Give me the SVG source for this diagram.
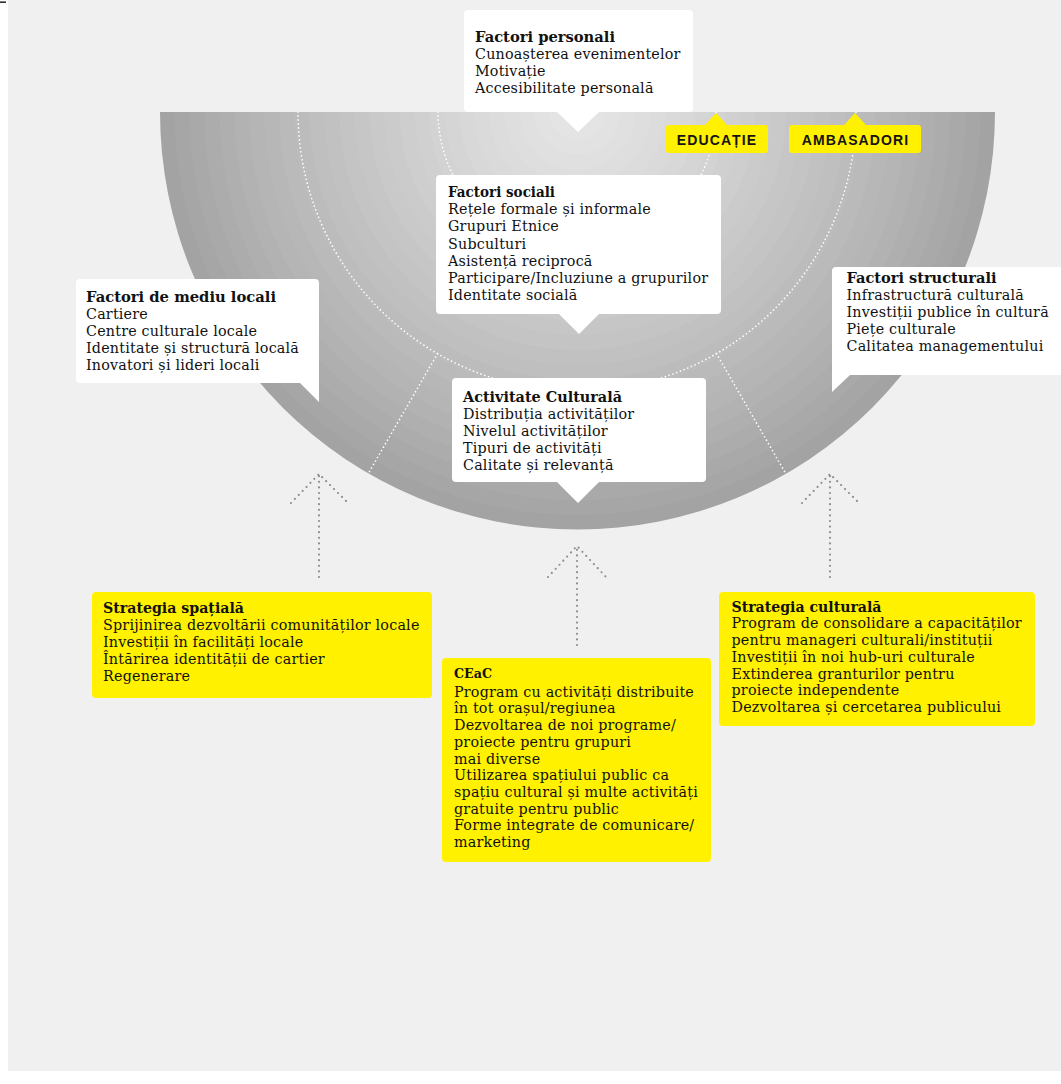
<svg xmlns="http://www.w3.org/2000/svg" width="1061" height="1084" viewBox="0 0 1061 1084">
<defs>
<style>
.t{font-family:"DejaVu Serif","Liberation Serif",serif;font-size:14.3px;letter-spacing:0.2px;fill:#111111}
.b{font-family:"DejaVu Serif","Liberation Serif",serif;font-size:14.3px;font-weight:bold;fill:#111111}
.tag{font-family:"Liberation Sans",Arial,sans-serif;font-size:14px;font-weight:bold;letter-spacing:1.1px;fill:#141414}
.box{fill:#ffffff}
.yel{fill:#fff100}
.wd{fill:none;stroke:#ffffff;stroke-width:1.7;stroke-dasharray:0 4;stroke-linecap:round}
.gd{fill:none;stroke:#8f8f8f;stroke-width:2.2;stroke-dasharray:0 5.6;stroke-linecap:round;stroke-linejoin:round}
</style>
<clipPath id="half"><rect x="0" y="112" width="1061" height="430"/></clipPath>
</defs>
<rect x="0" y="0" width="1061" height="1084" fill="#ffffff"/>
<rect x="8" y="0" width="1053" height="1071" fill="#f0f0f0"/>
<rect x="0" y="1.5" width="6" height="1.3" fill="#000"/>
<g id="semicircle" clip-path="url(#half)">
<circle cx="577.5" cy="112" r="417.5" fill="#a3a3a4"/>
<circle cx="577.5" cy="112" r="403" fill="#a6a6a7"/>
<circle cx="577.5" cy="112" r="388" fill="#a9a9aa"/>
<circle cx="577.5" cy="112" r="373" fill="#acacad"/>
<circle cx="577.5" cy="112" r="358" fill="#afafb0"/>
<circle cx="577.5" cy="112" r="343" fill="#b2b2b3"/>
<circle cx="577.5" cy="112" r="328" fill="#b5b5b6"/>
<circle cx="577.5" cy="112" r="313" fill="#b7b7b8"/>
<circle cx="577.5" cy="112" r="298" fill="#bababb"/>
<circle cx="577.5" cy="112" r="283" fill="#bcbcbd"/>
<circle cx="577.5" cy="112" r="268" fill="#bfbfc0"/>
<circle cx="577.5" cy="112" r="253" fill="#c1c1c2"/>
<circle cx="577.5" cy="112" r="238" fill="#c4c4c5"/>
<circle cx="577.5" cy="112" r="223" fill="#c6c6c7"/>
<circle cx="577.5" cy="112" r="208" fill="#c9c9ca"/>
<circle cx="577.5" cy="112" r="193" fill="#cbcbcc"/>
<circle cx="577.5" cy="112" r="178" fill="#cecece"/>
<circle cx="577.5" cy="112" r="163" fill="#d0d0d1"/>
<circle cx="577.5" cy="112" r="148" fill="#d3d3d3"/>
<circle cx="577.5" cy="112" r="133" fill="#d5d5d6"/>
<circle cx="577.5" cy="112" r="118" fill="#d8d8d8"/>
<circle cx="577.5" cy="112" r="103" fill="#dadadb"/>
<circle cx="577.5" cy="112" r="88" fill="#dcdcdc"/>
<circle cx="577.5" cy="112" r="73" fill="#dedede"/>
<circle cx="577.5" cy="112" r="58" fill="#e0e0e0"/>
<circle cx="577.5" cy="112" r="43" fill="#e2e2e2"/>
<circle cx="577.5" cy="112" r="28" fill="#e4e4e4"/>
</g>
<g id="connectors">
<path class="wd" d="M298 112 A279 279 0 0 0 856 112"/>
<path class="wd" d="M438 112 A139 139 0 0 0 716 112"/>
<path class="wd" d="M437.5 353.6 L368.5 473.1"/>
<path class="wd" d="M716.5 353.6 L785.5 473.1"/>
<path class="gd" d="M319 577 V474"/>
<path class="gd" d="M291 503 L319 474 L348 503"/>
<path class="gd" d="M577 645 V546"/>
<path class="gd" d="M548 577 L577 546 L606 577"/>
<path class="gd" d="M830 577 V474"/>
<path class="gd" d="M802 503 L830 474 L859 503"/>
</g>
<g id="factori-personali">
<path class="box" d="M468 10 H689 Q693 10 693 14 V108 Q693 112 689 112 H599 L578 132 L557 112 H468 Q464 112 464 108 V14 Q464 10 468 10 Z"/>
<text class="b" x="475" y="41.7" textLength="140" lengthAdjust="spacingAndGlyphs">Factori personali</text>
<text class="t" x="475" y="58.7">Cunoașterea evenimentelor</text>
<text class="t" x="475" y="75.7">Motivație</text>
<text class="t" x="475" y="92.7">Accesibilitate personală</text>
</g>
<g id="educatie">
<path class="yel" d="M669 125 H705 L716 113 L727 125 H765 Q768 125 768 128 V150 Q768 153 765 153 H669 Q666 153 666 150 V128 Q666 125 669 125 Z"/>
<text class="tag" x="717" y="145" text-anchor="middle">EDUCAȚIE</text>
</g>
<g id="ambasadori">
<path class="yel" d="M792 125 H844 L855 113 L866 125 H918 Q921 125 921 128 V150 Q921 153 918 153 H792 Q789 153 789 150 V128 Q789 125 792 125 Z"/>
<text class="tag" x="855.5" y="145" text-anchor="middle">AMBASADORI</text>
</g>
<g id="factori-sociali">
<path class="box" d="M440 175 H717 Q721 175 721 179 V310 Q721 314 717 314 H599 L579 334 L559 314 H440 Q436 314 436 310 V179 Q436 175 440 175 Z"/>
<text class="b" x="448" y="197" textLength="107" lengthAdjust="spacingAndGlyphs">Factori sociali</text>
<text class="t" x="448" y="214.2">Rețele formale și informale</text>
<text class="t" x="448" y="231.4">Grupuri Etnice</text>
<text class="t" x="448" y="248.6">Subculturi</text>
<text class="t" x="448" y="265.8">Asistență reciprocă</text>
<text class="t" x="448" y="283">Participare/Incluziune a grupurilor</text>
<text class="t" x="448" y="300.2">Identitate socială</text>
</g>
<g id="factori-mediu-locali">
<path class="box" d="M80 279 H315 Q319 279 319 283 V402 L300 383 H80 Q76 383 76 379 V283 Q76 279 80 279 Z"/>
<text class="b" x="86" y="301.7" textLength="190" lengthAdjust="spacingAndGlyphs">Factori de mediu locali</text>
<text class="t" x="86" y="318.7">Cartiere</text>
<text class="t" x="86" y="335.7">Centre culturale locale</text>
<text class="t" x="86" y="352.7">Identitate și structură locală</text>
<text class="t" x="86" y="369.7">Inovatori și lideri locali</text>
</g>
<g id="factori-structurali">
<path class="box" d="M836 267 H1066 V375 H850 L832 392 V271 Q832 267 836 267 Z"/>
<text class="b" x="846.5" y="282.7" textLength="150" lengthAdjust="spacingAndGlyphs">Factori structurali</text>
<text class="t" x="846.5" y="299.7">Infrastructură culturală</text>
<text class="t" x="846.5" y="316.7">Investiții publice în cultură</text>
<text class="t" x="846.5" y="333.7">Piețe culturale</text>
<text class="t" x="846.5" y="350.7">Calitatea managementului</text>
</g>
<g id="activitate-culturala">
<path class="box" d="M456 378 H702 Q706 378 706 382 V478 Q706 482 702 482 H599 L578 503 L557 482 H456 Q452 482 452 478 V382 Q452 378 456 378 Z"/>
<text class="b" x="463" y="401.7" textLength="159" lengthAdjust="spacingAndGlyphs">Activitate Culturală</text>
<text class="t" x="463" y="418.7">Distribuția activităților</text>
<text class="t" x="463" y="435.7">Nivelul activităților</text>
<text class="t" x="463" y="452.7">Tipuri de activități</text>
<text class="t" x="463" y="469.7">Calitate și relevanță</text>
</g>
<g id="strategia-spatiala">
<rect class="yel" x="92" y="592" width="340" height="106" rx="4"/>
<text class="b" x="103" y="613.3" textLength="141" lengthAdjust="spacingAndGlyphs">Strategia spațială</text>
<text class="t" x="103" y="630.3">Sprijinirea dezvoltării comunităților locale</text>
<text class="t" x="103" y="647.3">Investiții în facilități locale</text>
<text class="t" x="103" y="664.3">Întărirea identității de cartier</text>
<text class="t" x="103" y="681.3">Regenerare</text>
</g>
<g id="ceac">
<rect class="yel" x="442" y="658" width="269" height="204" rx="4"/>
<text class="b" x="454" y="678.3" style="font-size:12px" textLength="38" lengthAdjust="spacingAndGlyphs">CEaC</text>
<text class="t" x="454" y="696.7">Program cu activități distribuite</text>
<text class="t" x="454" y="713.4">în tot orașul/regiunea</text>
<text class="t" x="454" y="730.1">Dezvoltarea de noi programe/</text>
<text class="t" x="454" y="746.8">proiecte pentru grupuri</text>
<text class="t" x="454" y="763.5">mai diverse</text>
<text class="t" x="454" y="780.2">Utilizarea spațiului public ca</text>
<text class="t" x="454" y="796.9">spațiu cultural și multe activități</text>
<text class="t" x="454" y="813.6">gratuite pentru public</text>
<text class="t" x="454" y="830.3">Forme integrate de comunicare/</text>
<text class="t" x="454" y="847">marketing</text>
</g>
<g id="strategia-culturala">
<rect class="yel" x="719" y="592" width="316" height="134" rx="4"/>
<text class="b" x="731.5" y="611.7" textLength="150" lengthAdjust="spacingAndGlyphs">Strategia culturală</text>
<text class="t" x="731.5" y="628.4">Program de consolidare a capacităților</text>
<text class="t" x="731.5" y="645.1">pentru manageri culturali/instituții</text>
<text class="t" x="731.5" y="661.8">Investiții în noi hub-uri culturale</text>
<text class="t" x="731.5" y="678.5">Extinderea granturilor pentru</text>
<text class="t" x="731.5" y="695.2">proiecte independente</text>
<text class="t" x="731.5" y="711.9">Dezvoltarea și cercetarea publicului</text>
</g>
</svg>
